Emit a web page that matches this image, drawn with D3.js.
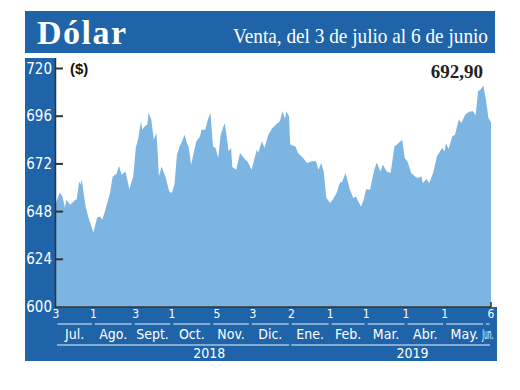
<!DOCTYPE html>
<html><head><meta charset="utf-8">
<script src="https://cdn.jsdelivr.net/npm/d3@7"></script>
<style>html,body{margin:0;padding:0;background:#fff}</style>
</head><body><svg id="c" width="520" height="390"></svg>
<script>
const dates = ["2018-07-03","2018-07-06","2018-07-08","2018-07-10","2018-07-11","2018-07-14","2018-07-18","2018-07-19","2018-07-21","2018-07-22","2018-07-23","2018-07-26","2018-07-28",
"2018-08-01","2018-08-04","2018-08-06","2018-08-08","2018-08-10","2018-08-14","2018-08-16","2018-08-19","2018-08-21","2018-08-23","2018-08-26","2018-08-29",
"2018-09-01","2018-09-03","2018-09-05","2018-09-07","2018-09-08","2018-09-10","2018-09-12","2018-09-13","2018-09-15","2018-09-17","2018-09-19","2018-09-20","2018-09-21","2018-09-23","2018-09-26","2018-09-29",
"2018-10-01","2018-10-03","2018-10-05","2018-10-07","2018-10-09","2018-10-11","2018-10-13","2018-10-14","2018-10-16","2018-10-18","2018-10-20","2018-10-23","2018-10-24","2018-10-27","2018-10-29","2018-10-31",
"2018-11-02","2018-11-04","2018-11-06","2018-11-08","2018-11-11","2018-11-13","2018-11-14","2018-11-16","2018-11-17","2018-11-20","2018-11-23","2018-11-26","2018-11-29",
"2018-12-02","2018-12-06","2018-12-07","2018-12-10","2018-12-12","2018-12-15","2018-12-18","2018-12-21","2018-12-24","2018-12-26","2018-12-28","2018-12-29","2018-12-31",
"2019-01-01","2019-01-05","2019-01-07","2019-01-11","2019-01-14","2019-01-18","2019-01-21","2019-01-23","2019-01-25","2019-01-27","2019-01-29",
"2019-02-01","2019-02-03","2019-02-06","2019-02-09","2019-02-10","2019-02-13","2019-02-15","2019-02-16","2019-02-19","2019-02-21","2019-02-25","2019-02-27",
"2019-03-01","2019-03-04","2019-03-07","2019-03-09","2019-03-10","2019-03-12","2019-03-14","2019-03-17","2019-03-20","2019-03-23","2019-03-25","2019-03-29","2019-03-31",
"2019-04-02","2019-04-05","2019-04-08","2019-04-10","2019-04-13","2019-04-14","2019-04-17","2019-04-19","2019-04-22","2019-04-25","2019-04-29",
"2019-05-01","2019-05-02","2019-05-04","2019-05-07","2019-05-09","2019-05-12","2019-05-14","2019-05-17","2019-05-20","2019-05-23","2019-05-25","2019-05-27","2019-05-29","2019-05-31",
"2019-06-02","2019-06-04","2019-06-06"];
const values = [652.4,657.6,655.6,650.0,654.0,651.4,654.0,654.0,663.2,661.5,664.0,650.6,645.5,
637.5,645.0,645.5,644.0,648.0,657.5,665.5,667.0,671.0,666.6,668.2,659.3,
665.7,680.0,685.0,693.4,689.2,690.9,691.8,697.7,694.3,684.2,687.6,677.5,665.7,670.7,665.7,658.1,
657.3,661.5,676.6,680.8,683.4,686.7,681.7,680.8,671.6,677.5,683.4,685.9,689.2,689.2,694.3,697.7,
680.8,680.0,675.0,686.7,692.6,684.2,678.4,680.0,670.5,669.0,677.5,675.0,673.0,
669.0,679.2,677.5,683.4,680.0,686.7,690.0,691.8,693.4,698.5,694.6,698.5,696.0,
681.7,680.8,677.5,675.0,672.5,673.3,673.3,669.0,672.5,668.2,655.0,
652.3,654.0,657.3,663.2,662.4,667.4,662.4,659.8,654.8,655.6,650.5,654.0,
659.3,659.0,668.2,672.5,671.6,668.2,671.6,668.2,667.4,680.8,681.7,684.2,675.0,
673.3,667.4,665.7,664.9,665.7,662.4,664.4,662.4,667.4,675.8,680.0,
678.4,682.5,679.5,685.9,686.7,694.3,692.6,696.8,698.2,698.5,696.3,708.6,709.4,711.4,
704.4,695.1,692.9];
const yTicks = [600,624,648,672,696,720];
const xTickDates = ["2018-07-03","2018-08-01","2018-09-03","2018-10-01","2018-11-05","2018-12-03","2019-01-02","2019-02-01","2019-03-01","2019-04-01","2019-05-01","2019-06-06"];
const monthNames = ["Jul.","Ago.","Sept.","Oct.","Nov.","Dic.","Ene.","Feb.","Mar.","Abr.","May.","Jun."];
const years = ["2018","2019"];
const yearLabelDates = ["2018-10-30","2019-04-06"];
const lastLabel = "692,90";
const titleText = "Dólar";
const subtitleText = "Venta, del 3 de julio al 6 de junio";
const unitText = "($)";

const BLUE = "#1f63a8", FILL = "#7cb4e2", DARK = "#333", SEG = "#a8c3df";
const NARROW = "'Liberation Sans Narrow','DejaVu Sans Condensed',sans-serif";
const parse = d3.timeParse("%Y-%m-%d");
const data = dates.map((d,i)=>({date:parse(d), v:values[i]}));
const svg = d3.select("#c");
svg.append("rect").attr("width",520).attr("height",390).attr("fill","#fff");

// header
svg.append("rect").attr("x",25).attr("y",11).attr("width",470).attr("height",42).attr("fill",BLUE);
svg.append("text").attr("x",37).attr("y",44).text(titleText)
  .attr("fill","#fff").attr("font-family","'Liberation Serif',serif").attr("font-weight","bold")
  .attr("font-size",34).attr("letter-spacing",1.5);
svg.append("text").attr("x",488).attr("y",43).attr("text-anchor","end").text(subtitleText)
  .attr("fill","#fff").attr("font-family","'Liberation Serif',serif").attr("font-size",21)
  .attr("textLength",255).attr("lengthAdjust","spacingAndGlyphs");

const x = d3.scaleTime().domain([parse("2018-07-03"), parse("2019-06-06")]).range([56,491]);
const y = d3.scaleLinear().domain([600,720]).range([307,68.5]);

// panels
svg.append("rect").attr("x",25).attr("y",58).attr("width",30).attr("height",303).attr("fill",BLUE);
svg.append("rect").attr("x",25).attr("y",307).attr("width",472).attr("height",54).attr("fill",BLUE);

// area
const area = d3.area().x(d=>x(d.date)).y0(y(600)).y1(d=>y(d.v));
svg.append("path").datum(data).attr("d",area).attr("fill",FILL);

// axes lines
svg.append("line").attr("x1",55.5).attr("x2",55.5).attr("y1",58).attr("y2",308).attr("stroke",DARK).attr("stroke-width",1.5);
svg.append("line").attr("x1",55).attr("x2",x.range()[1]).attr("y1",y(600)).attr("y2",y(600)).attr("stroke",DARK).attr("stroke-width",1.5);
svg.append("line").attr("x1",x.range()[1]).attr("x2",x.range()[1]).attr("y1",y(600)-5).attr("y2",y(600)).attr("stroke",DARK).attr("stroke-width",1.5);

// y ticks
const yg = svg.append("g");
yTicks.forEach(t=>{
  if (t>600) yg.append("line").attr("x1",55).attr("x2",63).attr("y1",y(t)).attr("y2",y(t)).attr("stroke",DARK).attr("stroke-width",2);
  yg.append("text").attr("x",52).attr("y",y(t)+5).attr("text-anchor","end").text(t)
    .attr("fill","#fff").attr("font-family",NARROW).attr("font-size",15);
});
svg.append("text").attr("x",70).attr("y",74).text(unitText).attr("fill","#111")
  .attr("font-family","'Liberation Sans',sans-serif").attr("font-weight","bold").attr("font-size",15);

// x tick labels
const fmtDay = d3.timeFormat("%-d");
xTickDates.forEach(s=>{
  const d = parse(s);
  svg.append("text").attr("x",x(d)).attr("y",318).attr("text-anchor","middle").text(fmtDay(d))
    .attr("fill","#fff").attr("font-family",NARROW).attr("font-size",12);
});

// month segments
const [d0,d1] = x.domain();
const months = d3.timeMonth.range(d3.timeMonth.floor(d0), d1);
months.forEach((m,i)=>{
  const s = m < d0 ? d0 : m;
  const e0 = d3.timeMonth.offset(m,1);
  const e = e0 > d1 ? d1 : e0;
  const xa = x(s)+1.5, xb = x(e)-1.5;
  svg.append("line").attr("x1",xa).attr("x2",xb).attr("y1",324).attr("y2",324).attr("stroke",SEG).attr("stroke-width",1.5);
  const t = svg.append("text").attr("x",(xa+xb)/2).attr("y",338.5).attr("text-anchor","middle").text(monthNames[i])
    .attr("fill","#fff").attr("font-family",NARROW).attr("font-size",14);
  if (xb-xa < 20) t.attr("textLength",11).attr("lengthAdjust","spacingAndGlyphs");
});

// years
years.forEach((yr,i)=>{
  const s = d3.max([d0, new Date(+yr,0,1)]);
  const e = d3.min([d1, new Date(+yr+1,0,1)]);
  svg.append("line").attr("x1",x(s)+1).attr("x2",x(e)-1).attr("y1",345).attr("y2",345).attr("stroke",SEG).attr("stroke-width",1.5);
  svg.append("text").attr("x",x(parse(yearLabelDates[i]))).attr("y",358).attr("text-anchor","middle").text(yr)
    .attr("fill","#fff").attr("font-family",NARROW).attr("font-size",14);
});

// last value label
const last = data[data.length-1];
svg.append("text").attr("x",x(last.date)-8).attr("y",78).attr("text-anchor","end").text(lastLabel)
  .attr("fill","#222").attr("font-family","'Liberation Serif',serif").attr("font-weight","bold").attr("font-size",19);
</script>
</body></html>
